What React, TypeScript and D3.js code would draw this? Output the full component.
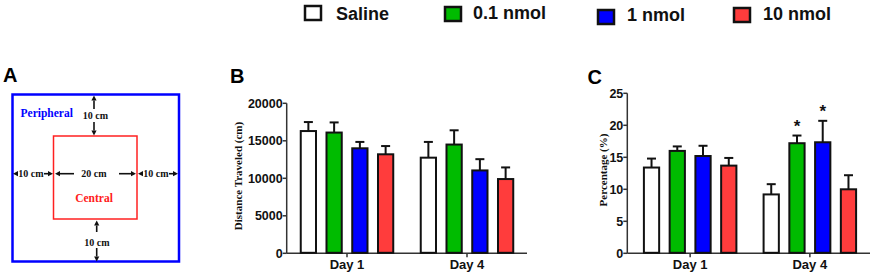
import React from "react";
import * as d3 from "d3";

const days = ["Day 1", "Day 4"];
const series = ["Saline", "0.1 nmol", "1 nmol", "10 nmol"];
const seriesColors = ["#ffffff", "#00bb00", "#0000ff", "#ff3c3c"];

const distanceMean = [
  [16300, 16100, 14000, 13200],
  [12750, 14500, 11050, 9900],
];
const distanceErr = [
  [1200, 1350, 850, 1100],
  [2100, 1900, 1500, 1550],
];
const distanceTicks = [0, 5000, 10000, 15000, 20000];

const percentMean = [
  [13.4, 16.0, 15.2, 13.7],
  [9.2, 17.2, 17.35, 10.0],
];
const percentErr = [
  [1.4, 0.7, 1.6, 1.2],
  [1.6, 1.2, 3.35, 2.2],
];
const percentTicks = [0, 5, 10, 15, 20, 25];
const percentStars = [
  [false, false, false, false],
  [false, true, true, false],
];

const SANS = "'Liberation Sans', Arial, sans-serif";
const SERIF = "'Liberation Serif', 'Times New Roman', serif";

type PanelProps = {
  label: string;
  labelX: number;
  labelY: number;
  axisX: number;
  axisEnd: number;
  bandStart: number;
  bandEnd: number;
  yMax: number;
  yTop: number;
  yBottom: number;
  ticks: number[];
  means: number[][];
  errs: number[][];
  stars?: boolean[][];
  title: string;
  titleX: number;
  titleY: number;
  titleSize: number;
};

function BarPanel(p: PanelProps) {
  const y = d3.scaleLinear().domain([0, p.yMax]).range([p.yBottom, p.yTop]);
  const x0 = d3.scaleBand<string>().domain(days).range([p.bandStart, p.bandEnd]);
  const groupW = 103;
  const x1 = d3
    .scaleBand<string>()
    .domain(series)
    .range([0, groupW])
    .paddingInner(0.33)
    .paddingOuter(0.165);
  const bw = x1.bandwidth();
  const axisColor = "#333";
  return (
    <g>
      <text x={p.labelX} y={p.labelY} fontFamily={SANS} fontWeight="bold" fontSize={20}>
        {p.label}
      </text>
      {/* y axis */}
      <line x1={p.axisX} x2={p.axisX} y1={y(p.yMax)} y2={p.yBottom} stroke={axisColor} strokeWidth={1.5} />
      {p.ticks.map((t) => (
        <g key={t}>
          <line x1={p.axisX - 4} x2={p.axisX} y1={y(t)} y2={y(t)} stroke={axisColor} strokeWidth={1.5} />
          <text
            x={p.axisX - 4}
            y={y(t)}
            dy="0.35em"
            textAnchor="end"
            fontFamily={SANS}
            fontWeight="bold"
            fontSize={12.5}
            fill="#111"
          >
            {t}
          </text>
        </g>
      ))}
      {/* x axis */}
      <line x1={p.axisX} x2={p.axisEnd} y1={p.yBottom} y2={p.yBottom} stroke={axisColor} strokeWidth={1.5} />
      {days.map((d) => {
        const cx = (x0(d) as number) + x0.bandwidth() / 2;
        return (
          <g key={d}>
            <line x1={cx} x2={cx} y1={p.yBottom} y2={p.yBottom + 4} stroke={axisColor} strokeWidth={1.5} />
            <text x={cx} y={p.yBottom + 16} textAnchor="middle" fontFamily={SANS} fontWeight="bold" fontSize={13} fill="#111">
              {d}
            </text>
          </g>
        );
      })}
      {/* bars */}
      {days.map((d, di) => {
        const gx = (x0(d) as number) + x0.bandwidth() / 2 - groupW / 2;
        return series.map((s, si) => {
          const bx = gx + (x1(s) as number);
          const cx = bx + bw / 2;
          const m = p.means[di][si];
          const e = p.errs[di][si];
          const top = y(m);
          const etop = y(m + e);
          return (
            <g key={d + s}>
              <line x1={cx} x2={cx} y1={top} y2={etop} stroke="#111" strokeWidth={2} />
              <line x1={cx - 4.5} x2={cx + 4.5} y1={etop} y2={etop} stroke="#111" strokeWidth={2} />
              <rect
                x={bx + 1}
                y={top}
                width={bw - 2}
                height={p.yBottom - top - 0.5}
                fill={seriesColors[si]}
                stroke="#111"
                strokeWidth={2}
              />
              {p.stars && p.stars[di][si] ? (
                <text x={cx} y={etop - 4} textAnchor="middle" fontFamily={SANS} fontWeight="bold" fontSize={17} fill="#111">
                  *
                </text>
              ) : null}
            </g>
          );
        });
      })}
      <text
        transform={`translate(${p.titleX},${p.titleY}) rotate(-90)`}
        textAnchor="middle"
        dy="0.35em"
        fontFamily={SERIF}
        fontWeight="bold"
        fontSize={p.titleSize}
        fill="#111"
      >
        {p.title}
      </text>
    </g>
  );
}

function Arrow({ x1, y1, x2, y2 }: { x1: number; y1: number; x2: number; y2: number }) {
  const ang = Math.atan2(y2 - y1, x2 - x1);
  const L = 5;
  const W = 2.6;
  const bx = x2 - L * Math.cos(ang);
  const by = y2 - L * Math.sin(ang);
  const px = -Math.sin(ang) * W;
  const py = Math.cos(ang) * W;
  return (
    <g>
      <line x1={x1} y1={y1} x2={bx} y2={by} stroke="#111" strokeWidth={1.6} />
      <polygon points={`${x2},${y2} ${bx + px},${by + py} ${bx - px},${by - py}`} fill="#111" />
    </g>
  );
}

function PanelA() {
  const t = { fontFamily: SERIF, fontWeight: "bold" as const, fontSize: 10, fill: "#111" };
  return (
    <g>
      <text x={3} y={82} fontFamily={SANS} fontWeight="bold" fontSize={20}>
        A
      </text>
      <rect x={12.5} y={94.5} width={166.5} height={167} fill="none" stroke="#0000ff" strokeWidth={2.5} />
      <rect x={53.5} y={136} width={83.5} height={83} fill="none" stroke="#ff2020" strokeWidth={1.5} />
      <text x={20.5} y={117} fontFamily={SERIF} fontWeight="bold" fontSize={11.5} fill="#0000ff">
        Peripheral
      </text>
      <text x={94} y={202} textAnchor="middle" fontFamily={SERIF} fontWeight="bold" fontSize={11.5} fill="#ff2020">
        Central
      </text>
      <Arrow x1={94} y1={109} x2={94} y2={95.5} />
      <text x={95.5} y={119} textAnchor="middle" {...t}>10 cm</text>
      <Arrow x1={94} y1={122} x2={94} y2={135.5} />
      <Arrow x1={18} y1={173.7} x2={13} y2={173.7} />
      <text x={31} y={177} textAnchor="middle" {...t}>10 cm</text>
      <Arrow x1={44} y1={173.7} x2={53} y2={173.7} />
      <Arrow x1={74} y1={173.7} x2={55} y2={173.7} />
      <text x={94} y={177} textAnchor="middle" {...t}>20 cm</text>
      <Arrow x1={119} y1={173.7} x2={136} y2={173.7} />
      <Arrow x1={143} y1={173.7} x2={138} y2={173.7} />
      <text x={156} y={177} textAnchor="middle" {...t}>10 cm</text>
      <Arrow x1={169} y1={173.7} x2={178} y2={173.7} />
      <Arrow x1={96.7} y1={232} x2={96.7} y2={220.5} />
      <text x={97} y={246} textAnchor="middle" {...t}>10 cm</text>
      <Arrow x1={96.7} y1={248} x2={96.7} y2={261.5} />
    </g>
  );
}

const legendX = [305, 445, 598, 734];
const legendBoxY = [6, 7, 10, 8];
const legendTextX = [336, 473, 627, 763];
const legendTextY = [19.5, 19, 21, 19.5];

function Legend() {
  return (
    <g>
      {series.map((s, i) => (
        <g key={s}>
          <rect x={legendX[i]} y={legendBoxY[i]} width={16} height={14} fill={seriesColors[i]} stroke="#111" strokeWidth={2.5} />
          <text x={legendTextX[i]} y={legendTextY[i]} fontFamily={SANS} fontWeight="bold" fontSize={18} fill="#111">
            {s}
          </text>
        </g>
      ))}
    </g>
  );
}

export default function App() {
  return (
    <svg
      width={872}
      height={273}
      viewBox="0 0 872 273"
      style={{ position: "absolute", left: 0, top: 0, background: "#fff" }}
    >
      <rect x={0} y={0} width={872} height={273} fill="#fff" />
      <Legend />
      <PanelA />
      <BarPanel
        label="B"
        labelX={230}
        labelY={82.5}
        axisX={286.7}
        axisEnd={527}
        bandStart={287}
        bandEnd={527}
        yMax={20000}
        yTop={103.3}
        yBottom={253.3}
        ticks={distanceTicks}
        means={distanceMean}
        errs={distanceErr}
        title="Distance Traveled (cm)"
        titleX={238}
        titleY={176}
        titleSize={11}
      />
      <BarPanel
        label="C"
        labelX={587.5}
        labelY={83.5}
        axisX={627.3}
        axisEnd={870}
        bandStart={630.3}
        bandEnd={869.7}
        yMax={25}
        yTop={93.3}
        yBottom={253.3}
        ticks={percentTicks}
        means={percentMean}
        errs={percentErr}
        stars={percentStars}
        title="Percentage (%)"
        titleX={603}
        titleY={170}
        titleSize={11}
      />
    </svg>
  );
}
